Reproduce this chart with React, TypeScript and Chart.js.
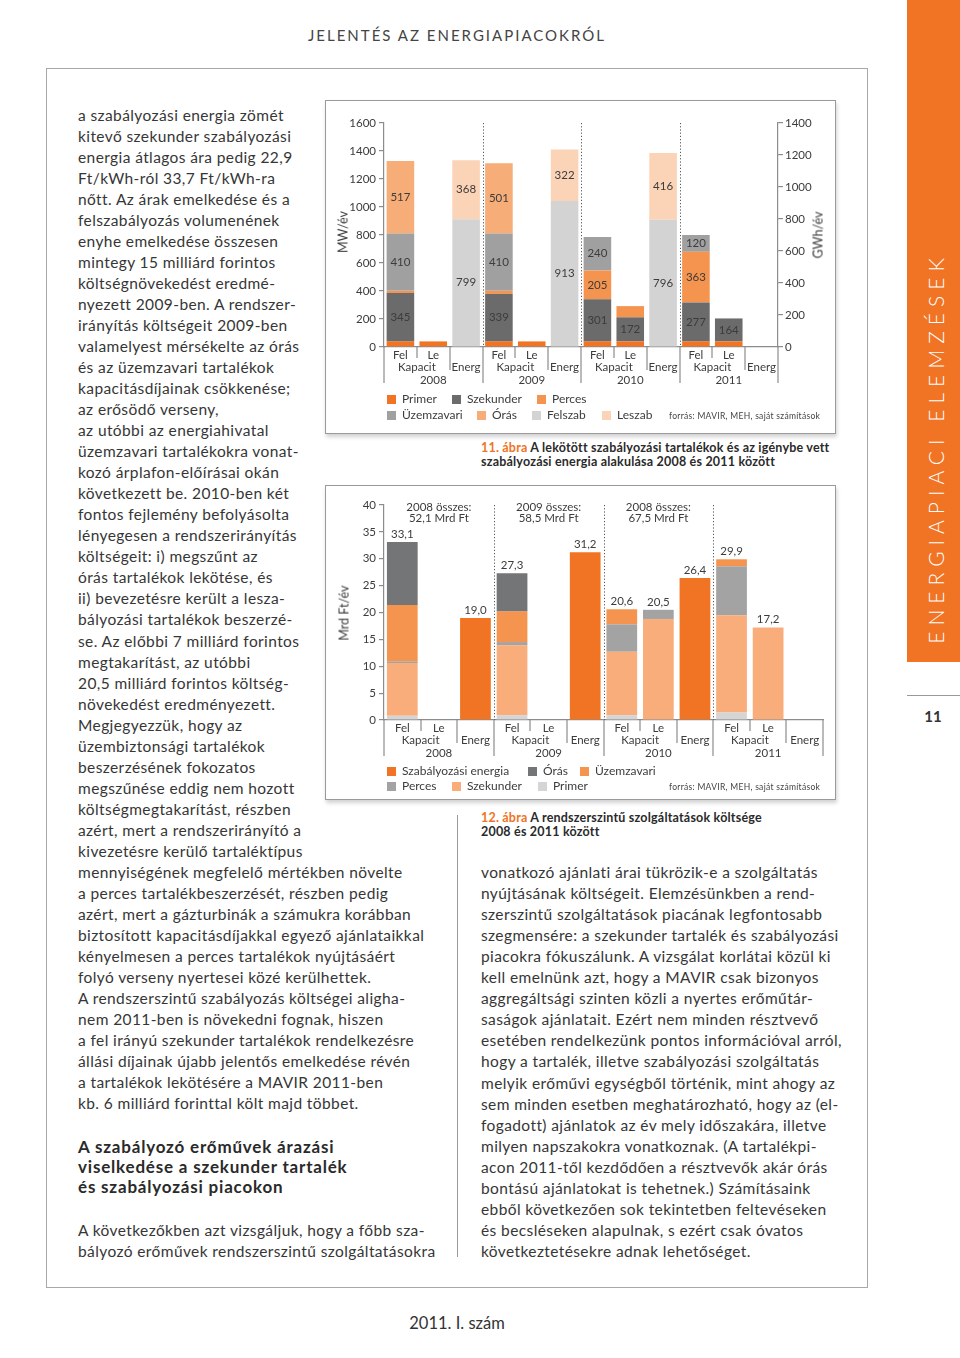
import React, { useEffect, useRef } from "react";
import { Chart, registerables } from "chart.js";

Chart.register(...registerables);

const FONT = "Lato, 'Noto Sans', sans-serif";

// ---------- shared category structure ----------
const years = ["2008", "2009", "2010", "2011"];
const subLabels = ["Fel", "Le", "Energ"];
const kapacitLabel = "Kapacit";
const categories = years.flatMap((y) => subLabels.map((s) => `${y} ${s}`));

// ---------- Figure 11: MW/év (Fel/Le) and GWh/év (Energ) ----------
const f11_primer = [40, 40, null, 40, 40, null, 40, 40, null, 40, 40, null];
const f11_szekunder = [345, null, null, 339, null, null, 301, 172, null, 277, 164, null];
const f11_perces = [16, null, null, 22, null, null, 205, 80, null, 363, null, null];
const f11_uzemzavari = [410, null, null, 410, null, null, 240, null, null, 120, null, null];
const f11_oras = [517, null, null, 501, null, null, null, null, null, null, null, null];
const f11_felszab = [null, null, 799, null, null, 913, null, null, 796, null, null, null];
const f11_leszab = [null, null, 368, null, null, 322, null, null, 416, null, null, null];
const f11_leftTicks = { min: 0, max: 1600, step: 200 };
const f11_rightTicks = { min: 0, max: 1400, step: 200 };

// ---------- Figure 12: Mrd Ft/év ----------
const f12_primer = [0.8, null, null, 0.9, null, null, 0.9, null, null, 1.4, null, null];
const f12_szekunder = [9.8, null, null, 13.0, null, null, 11.8, 18.8, null, 18.1, 17.2, null];
const f12_perces = [0.3, null, null, 0.6, null, null, 5.1, 1.7, null, 9.1, null, null];
const f12_uzemzavari = [10.5, null, null, 5.7, null, null, 2.8, null, null, 1.3, null, null];
const f12_oras = [11.7, null, null, 7.1, null, null, null, null, null, null, null, null];
const f12_energia = [null, null, 19.0, null, null, 31.2, null, null, 26.4, null, null, null];
const f12_groupNotes = [
  ["2008 összes:", "52,1 Mrd Ft"],
  ["2009 összes:", "58,5 Mrd Ft"],
  ["2008 összes:", "67,5 Mrd Ft"],
  null,
];
const f12_ticks = { min: 0, max: 40, step: 5 };

// ---------- colours ----------
const COL = {
  primer: "#f07424",
  szekDark: "#6b6b6b",
  perces: "#f4944e",
  uzemGray: "#a0a0a0",
  orasLight: "#f7ad78",
  felszab: "#d3d3d3",
  leszab: "#fbd3b6",
  oras2: "#737577",
  perces2: "#a3a3a3",
  szek2: "#f8ad7a",
  primer2: "#d5d5d5",
};

const legend11 = [
  { label: "Primer", color: COL.primer, x: 387, y: 399 },
  { label: "Szekunder", color: COL.szekDark, x: 452, y: 399 },
  { label: "Perces", color: COL.perces, x: 537, y: 399 },
  { label: "Üzemzavari", color: COL.uzemGray, x: 387, y: 415 },
  { label: "Órás", color: COL.orasLight, x: 477, y: 415 },
  { label: "Felszab", color: COL.felszab, x: 532, y: 415 },
  { label: "Leszab", color: COL.leszab, x: 602, y: 415 },
];
const legend12 = [
  { label: "Szabályozási energia", color: COL.primer, x: 387, y: 771 },
  { label: "Órás", color: COL.oras2, x: 528, y: 771 },
  { label: "Üzemzavari", color: COL.perces, x: 580, y: 771 },
  { label: "Perces", color: COL.perces2, x: 387, y: 786 },
  { label: "Szekunder", color: COL.szek2, x: 452, y: 786 },
  { label: "Primer", color: COL.primer2, x: 538, y: 786 },
];
const sourceText = "forrás: MAVIR, MEH, saját számítások";

// ---------- page text ----------
const leftLines = [
  "a szabályozási energia zömét",
  "kitevő szekunder szabályozási",
  "energia átlagos ára pedig 22,9",
  "Ft/kWh-ról 33,7 Ft/kWh-ra",
  "nőtt. Az árak emelkedése és a",
  "felszabályozás volumenének",
  "enyhe emelkedése összesen",
  "mintegy 15 milliárd forintos",
  "költségnövekedést eredmé-",
  "nyezett 2009-ben. A rendszer-",
  "irányítás költségeit 2009-ben",
  "valamelyest mérsékelte az órás",
  "és az üzemzavari tartalékok",
  "kapacitásdíjainak csökkenése;",
  "az erősödő verseny,",
  "az utóbbi az energiahivatal",
  "üzemzavari tartalékokra vonat-",
  "kozó árplafon-előírásai okán",
  "következett be. 2010-ben két",
  "fontos fejlemény befolyásolta",
  "lényegesen a rendszerirányítás",
  "költségeit: i) megszűnt az",
  "órás tartalékok lekötése, és",
  "ii) bevezetésre került a lesza-",
  "bályozási tartalékok beszerzé-",
  "se. Az előbbi 7 milliárd forintos",
  "megtakarítást, az utóbbi",
  "20,5 milliárd forintos költség-",
  "növekedést eredményezett.",
  "Megjegyezzük, hogy az",
  "üzembiztonsági tartalékok",
  "beszerzésének fokozatos",
  "megszűnése eddig nem hozott",
  "költségmegtakarítást, részben",
  "azért, mert a rendszerirányító a",
  "kivezetésre kerülő tartaléktípus",
  "mennyiségének megfelelő mértékben növelte",
  "a perces tartalékbeszerzését, részben pedig",
  "azért, mert a gázturbinák a számukra korábban",
  "biztosított kapacitásdíjakkal egyező ajánlataikkal",
  "kényelmesen a perces tartalékok nyújtásáért",
  "folyó verseny nyertesei közé kerülhettek.",
  "A rendszerszintű szabályozás költségei aligha-",
  "nem 2011-ben is növekedni fognak, hiszen",
  "a fel irányú szekunder tartalékok rendelkezésre",
  "állási díjainak újabb jelentős emelkedése révén",
  "a tartalékok lekötésére a MAVIR 2011-ben",
  "kb. 6 milliárd forinttal költ majd többet.",
];
const headingLines = [
  "A szabályozó erőművek árazási",
  "viselkedése a szekunder tartalék",
  "és szabályozási piacokon",
];
const leftTail = [
  "A következőkben azt vizsgáljuk, hogy a főbb sza-",
  "bályozó erőművek rendszerszintű szolgáltatásokra",
];
const rightLines = [
  "vonatkozó ajánlati árai tükrözik-e a szolgáltatás",
  "nyújtásának költségeit. Elemzésünkben a rend-",
  "szerszintű szolgáltatások piacának legfontosabb",
  "szegmensére: a szekunder tartalék és szabályozási",
  "piacokra fókuszálunk. A vizsgálat korlátai közül ki",
  "kell emelnünk azt, hogy a MAVIR csak bizonyos",
  "aggregáltsági szinten közli a nyertes erőműtár-",
  "saságok ajánlatait. Ezért nem minden résztvevő",
  "esetében rendelkezünk pontos információval arról,",
  "hogy a tartalék, illetve szabályozási szolgáltatás",
  "melyik erőművi egységből történik, mint ahogy az",
  "sem minden esetben meghatározható, hogy az (el-",
  "fogadott) ajánlatok az év mely időszakára, illetve",
  "milyen napszakokra vonatkoznak. (A tartalékpi-",
  "acon 2011-től kezdődően a résztvevők akár órás",
  "bontású ajánlatokat is tehetnek.) Számításaink",
  "ebből következően sok tekintetben feltevéseken",
  "és becsléseken alapulnak, s ezért csak óvatos",
  "következtetésekre adnak lehetőséget.",
];

// ---------- plugins ----------
const groupAxisPlugin = {
  id: "groupAxis",
  beforeDatasetsDraw(chart: any) {
    const { ctx, chartArea } = chart;
    const n = categories.length;
    const step = (chartArea.right - chartArea.left) / n;
    ctx.save();
    ctx.setLineDash([1.2, 2]);
    ctx.strokeStyle = "#555";
    ctx.lineWidth = 1;
    for (let k = 3; k < n; k += 3) {
      const xb = Math.round(chartArea.left + k * step) + 0.5;
      ctx.beginPath();
      ctx.moveTo(xb, chartArea.top);
      ctx.lineTo(xb, chartArea.bottom);
      ctx.stroke();
    }
    ctx.restore();
  },
  afterDraw(chart: any) {
    const { ctx, chartArea } = chart;
    const xs = chart.scales.x;
    const yb = chartArea.bottom;
    const n = categories.length;
    const step = (chartArea.right - chartArea.left) / n;
    ctx.save();
    ctx.strokeStyle = "#8c8c8c";
    ctx.lineWidth = 1.2;
    for (let k = 0; k <= n; k++) {
      const xb = Math.round(chartArea.left + k * step);
      const len = k % 3 === 0 ? 36 : k % 3 === 1 ? 11 : 23;
      ctx.beginPath();
      ctx.moveTo(xb, yb);
      ctx.lineTo(xb, yb + len);
      ctx.stroke();
    }
    ctx.fillStyle = "#3c3c3c";
    ctx.font = `11.5px ${FONT}`;
    ctx.textAlign = "center";
    ctx.textBaseline = "middle";
    for (let i = 0; i < n; i++) {
      const cx = xs.getPixelForValue(i);
      const s = i % 3;
      if (s < 2) ctx.fillText(subLabels[s], cx, yb + 8);
      else ctx.fillText(subLabels[2], cx, yb + 20);
      if (s === 0) ctx.fillText(kapacitLabel, cx + step / 2, yb + 20);
      if (s === 1) ctx.fillText(years[(i - 1) / 3], cx, yb + 33);
    }
    ctx.restore();
  },
};

const segmentLabelPlugin = {
  id: "segLabels",
  afterDatasetsDraw(chart: any) {
    const { ctx } = chart;
    ctx.save();
    ctx.fillStyle = "#3c3c3c";
    ctx.font = `11.5px ${FONT}`;
    ctx.textAlign = "center";
    ctx.textBaseline = "middle";
    chart.data.datasets.forEach((ds: any, di: number) => {
      const meta = chart.getDatasetMeta(di);
      meta.data.forEach((el: any, i: number) => {
        const v = ds.data[i];
        if (v == null || v < 100) return;
        const p = el.getProps(["x", "y", "base"], true);
        ctx.fillText(String(v), p.x, (p.y + p.base) / 2);
      });
    });
    ctx.restore();
  },
};

const totalsPlugin = {
  id: "totals",
  afterDatasetsDraw(chart: any) {
    const { ctx, chartArea } = chart;
    const xs = chart.scales.x;
    const ys = chart.scales.y;
    ctx.save();
    ctx.fillStyle = "#3c3c3c";
    ctx.font = `11.5px ${FONT}`;
    ctx.textAlign = "center";
    ctx.textBaseline = "middle";
    for (let i = 0; i < categories.length; i++) {
      let sum = 0;
      chart.data.datasets.forEach((ds: any) => {
        const v = ds.data[i];
        if (v != null) sum += v;
      });
      if (sum <= 0) continue;
      const y = ys.getPixelForValue(sum);
      ctx.fillText(sum.toFixed(1).replace(".", ","), xs.getPixelForValue(i), y - 8);
    }
    f12_groupNotes.forEach((note, g) => {
      if (!note) return;
      const cx = xs.getPixelForValue(g * 3 + 1);
      ctx.fillText(note[0], cx, chartArea.top + 2);
      ctx.fillText(note[1], cx, chartArea.top + 13);
    });
    ctx.restore();
  },
};

function ds(label: string, data: (number | null)[], color: string, axis = "y") {
  return { label, data, backgroundColor: color, yAxisID: axis, stack: "all", borderWidth: 0 };
}

function yScale(t: { min: number; max: number; step: number }, position: string, width: number, pad: number) {
  return {
    type: "linear",
    position,
    stacked: true,
    min: t.min,
    max: t.max,
    ticks: {
      stepSize: t.step,
      padding: pad,
      color: "#3c3c3c",
      font: { size: 11.5 },
      callback: (v: any) => String(v),
    },
    grid: { drawOnChartArea: false, drawTicks: true, tickLength: 5, color: "#8c8c8c", lineWidth: 1.2 },
    border: { display: true, color: "#8c8c8c", width: 1.2 },
    afterFit: (s: any) => {
      s.width = width;
    },
  };
}

function xScale(h: number) {
  return {
    stacked: true,
    grid: { display: false },
    ticks: { display: false },
    border: { display: true, color: "#8c8c8c", width: 1.2 },
    afterFit: (s: any) => {
      s.height = h;
    },
  };
}

// ---------- small html helpers ----------
const abs = (x: number, y: number, extra: any = {}) => ({ position: "absolute" as const, left: x, top: y, ...extra });

function Legend({ items }: { items: { label: string; color: string; x: number; y: number }[] }) {
  return (
    <>
      {items.map((it) => (
        <React.Fragment key={it.label}>
          <div style={abs(it.x, it.y - 4, { width: 9, height: 9, background: it.color })} />
          <div
            style={abs(it.x + 15, it.y, {
              transform: "translateY(-50%)",
              font: `12px ${FONT}`,
              color: "#3c3c3c",
              lineHeight: 1,
              whiteSpace: "nowrap",
            })}
          >
            {it.label}
          </div>
        </React.Fragment>
      ))}
    </>
  );
}

function Lines({ lines, x, y0, lh, font, color = "#363636", ls = "0px" }: any) {
  return (
    <>
      {lines.map((t: string, i: number) => (
        <div
          key={i}
          style={abs(x, y0 + i * lh, {
            transform: "translateY(-50%)",
            font,
            color,
            letterSpacing: ls,
            lineHeight: 1,
            whiteSpace: "nowrap",
          })}
        >
          {t}
        </div>
      ))}
    </>
  );
}

function Rot({ text, cx, cy, style }: any) {
  return (
    <div
      style={abs(cx, cy, {
        transform: "translate(-50%, -50%) rotate(-90deg)",
        whiteSpace: "nowrap",
        lineHeight: 1,
        ...style,
      })}
    >
      {text}
    </div>
  );
}

export default function App() {
  const c1 = useRef<HTMLCanvasElement>(null);
  const c2 = useRef<HTMLCanvasElement>(null);

  useEffect(() => {
    Chart.defaults.font.family = FONT;
    Chart.defaults.color = "#3c3c3c";
    const commonBar = { barPercentage: 0.84, categoryPercentage: 1 };
    const ch1 = new Chart(c1.current as HTMLCanvasElement, {
      type: "bar",
      data: {
        labels: categories,
        datasets: [
          ds("Primer", f11_primer, COL.primer),
          ds("Szekunder", f11_szekunder, COL.szekDark),
          ds("Perces", f11_perces, COL.perces),
          ds("Üzemzavari", f11_uzemzavari, COL.uzemGray),
          ds("Órás", f11_oras, COL.orasLight),
          ds("Felszab", f11_felszab, COL.felszab, "y2"),
          ds("Leszab", f11_leszab, COL.leszab, "y2"),
        ] as any,
      },
      options: {
        responsive: false,
        animation: false,
        layout: { padding: { top: 23, left: 0, right: 0, bottom: 0 } },
        plugins: { legend: { display: false }, tooltip: { enabled: false } },
        datasets: { bar: commonBar },
        scales: {
          x: xScale(87),
          y: yScale(f11_leftTicks, "left", 59, 3),
          y2: yScale(f11_rightTicks, "right", 58, 2),
        } as any,
      },
      plugins: [groupAxisPlugin, segmentLabelPlugin],
    });
    const ch2 = new Chart(c2.current as HTMLCanvasElement, {
      type: "bar",
      data: {
        labels: categories,
        datasets: [
          ds("Primer", f12_primer, COL.primer2),
          ds("Szekunder", f12_szekunder, COL.szek2),
          ds("Perces", f12_perces, COL.perces2),
          ds("Üzemzavari", f12_uzemzavari, COL.perces),
          ds("Órás", f12_oras, COL.oras2),
          ds("Szabályozási energia", f12_energia, COL.primer),
        ] as any,
      },
      options: {
        responsive: false,
        animation: false,
        layout: { padding: { top: 20, left: 0, right: 13, bottom: 0 } },
        plugins: { legend: { display: false }, tooltip: { enabled: false } },
        datasets: { bar: commonBar },
        scales: {
          x: xScale(80),
          y: yScale(f12_ticks, "left", 59, 3),
        } as any,
      },
      plugins: [groupAxisPlugin, totalsPlugin],
    });
    return () => {
      ch1.destroy();
      ch2.destroy();
    };
  }, []);

  const body = `15.5px ${FONT}`;
  const bodyLS = "0.4px";
  const box = {
    background: "#fff",
    border: "1px solid #9a9a9a",
    boxShadow: "1px 3px 4px rgba(0,0,0,0.18)",
    boxSizing: "border-box" as const,
  };
  const capStyle = {
    font: `bold 12.5px ${FONT}`,
    letterSpacing: "0.2px",
    color: "#2a2a2a",
    lineHeight: "14px",
    whiteSpace: "nowrap",
  };

  return (
    <div style={abs(0, 0, { width: 960, height: 1358, background: "#fff", overflow: "hidden", fontFamily: FONT })}>
      {/* header */}
      <div
        style={abs(457, 35, {
          transform: "translate(-50%, -50%)",
          font: `15px ${FONT}`,
          letterSpacing: "2px",
          color: "#444",
          whiteSpace: "nowrap",
          lineHeight: 1,
        })}
      >
        JELENTÉS AZ ENERGIAPIACOKRÓL
      </div>

      {/* sidebar */}
      <div style={abs(907, 0, { width: 53, height: 662, background: "#f07424" })} />
      <Rot
        text="ENERGIAPIACI ELEMZÉSEK"
        cx={935}
        cy={448}
        style={{ color: "#fff", font: `300 21px ${FONT}`, letterSpacing: "6px" }}
      />
      <div style={abs(907, 695, { width: 53, height: 1, background: "#999" })} />
      <div
        style={abs(933, 716, {
          transform: "translate(-50%, -50%)",
          font: `bold 15px ${FONT}`,
          color: "#333",
          lineHeight: 1,
        })}
      >
        11
      </div>

      {/* frame */}
      <div style={abs(46, 68, { width: 822, height: 1220, border: "1px solid #a8a8a8", boxSizing: "border-box" })} />

      {/* column text */}
      <Lines lines={leftLines} x={78} y0={116} lh={21.02} font={body} ls={bodyLS} />
      <Lines lines={headingLines} x={78} y0={1146} lh={20} font={`bold 17px ${FONT}`} color="#2a2a2a" ls="0.8px" />
      <Lines lines={leftTail} x={78} y0={1231} lh={21} font={body} ls={bodyLS} />
      <Lines lines={rightLines} x={481} y0={873} lh={21.05} font={body} ls={bodyLS} />
      <div style={abs(457, 815, { width: 1, height: 442, background: "#9a9a9a" })} />

      {/* figure 11 */}
      <div style={abs(325, 100, { width: 511, height: 334, ...box })} />
      <canvas ref={c1} width={511} height={334} style={abs(325, 100, { width: 511, height: 334 })} />
      <Rot text="MW/év" cx={343} cy={232} style={{ font: `12.5px ${FONT}`, color: "#3c3c3c" }} />
      <Rot text="GWh/év" cx={818} cy={235} style={{ font: `12.5px ${FONT}`, color: "#3c3c3c" }} />
      <Legend items={legend11} />
      <div style={abs(669, 416, { transform: "translateY(-50%)", font: `8.5px ${FONT}`, color: "#444", whiteSpace: "nowrap", lineHeight: 1, letterSpacing: "0.3px" })}>
        {sourceText}
      </div>
      <div style={abs(481, 441, capStyle)}>
        <span style={{ color: "#f07424" }}>11. ábra</span> A lekötött szabályozási tartalékok és az igénybe vett
        <br />
        szabályozási energia alakulása 2008 és 2011 között
      </div>

      {/* figure 12 */}
      <div style={abs(325, 485, { width: 511, height: 315, ...box })} />
      <canvas ref={c2} width={511} height={315} style={abs(325, 485, { width: 511, height: 315 })} />
      <Rot text="Mrd Ft/év" cx={344} cy={613} style={{ font: `12.5px ${FONT}`, color: "#3c3c3c" }} />
      <Legend items={legend12} />
      <div style={abs(669, 787, { transform: "translateY(-50%)", font: `8.5px ${FONT}`, color: "#444", whiteSpace: "nowrap", lineHeight: 1, letterSpacing: "0.3px" })}>
        {sourceText}
      </div>
      <div style={abs(481, 811, capStyle)}>
        <span style={{ color: "#f07424" }}>12. ábra</span> A rendszerszintű szolgáltatások költsége
        <br />
        2008 és 2011 között
      </div>

      {/* footer */}
      <div
        style={abs(457, 1323, {
          transform: "translate(-50%, -50%)",
          font: `16.5px ${FONT}`,
          color: "#333",
          whiteSpace: "nowrap",
          lineHeight: 1,
        })}
      >
        2011. I. szám
      </div>
    </div>
  );
}
